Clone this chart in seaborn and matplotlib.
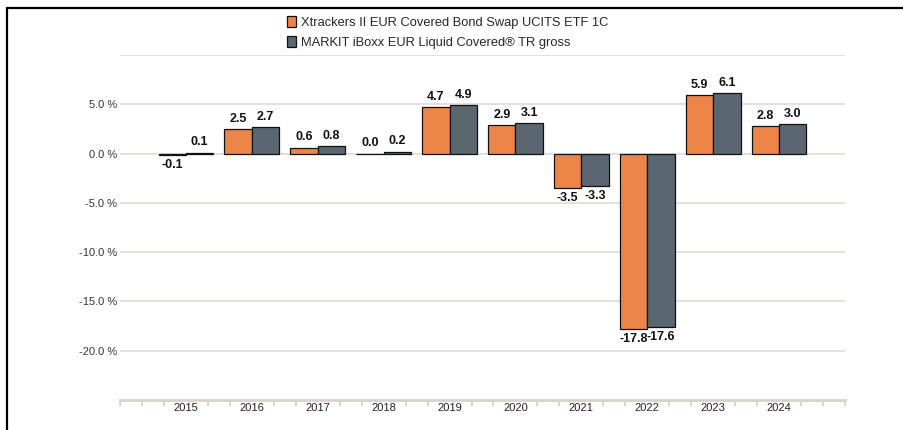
import matplotlib
matplotlib.use("Agg")
import matplotlib.pyplot as plt
import matplotlib.lines as mlines
import numpy as np
import pandas as pd
import seaborn as sns

years = ["2015", "2016", "2017", "2018", "2019", "2020", "2021", "2022", "2023", "2024"]
fund_name = "Xtrackers II EUR Covered Bond Swap UCITS ETF 1C"
index_name = "MARKIT iBoxx EUR Liquid Covered® TR gross"
fund_values = [-0.1, 2.5, 0.6, 0.0, 4.7, 2.9, -3.5, -17.8, 5.9, 2.8]
index_values = [0.1, 2.7, 0.8, 0.2, 4.9, 3.1, -3.3, -17.6, 6.1, 3.0]
y_ticks = [-20, -15, -10, -5, 0, 5]
y_tick_labels = ["-20.0 %", "-15.0 %", "-10.0 %", "-5.0 %", "0.0 %", "5.0 %"]

colors = ["#EE8548", "#5A6771"]

df = pd.DataFrame({
    "year": years * 2,
    "value": fund_values + index_values,
    "series": [fund_name] * len(years) + [index_name] * len(years),
})

sns.set_theme(style="white")
plt.rcParams["font.family"] = ["Liberation Sans", "DejaVu Sans"]

fig = plt.figure(figsize=(9.04, 4.30), dpi=100)
ax = fig.add_axes([120 / 904, 30 / 430, 725 / 904, 345 / 430])

sns.barplot(data=df, x="year", y="value", hue="series", palette=colors,
            edgecolor="#111111", linewidth=0.9, width=0.83, dodge=True,
            saturation=1, ax=ax, legend=True)

ax.set_xlim(-1, 10)
ax.set_ylim(-25, 10)

# grid
for g in [-20, -15, -10, -5, 0, 5, 10]:
    ax.axhline(g, color="#E2E1DC", lw=1.4, zorder=0)

ax.set_yticks(y_ticks)
ax.set_yticklabels(y_tick_labels, fontsize=8, color="#333333")
ax.tick_params(axis="y", length=0, pad=2)
ax.tick_params(axis="x", which="major", length=0, pad=2, labelsize=8, labelcolor="#222222")
ax.set_xlabel("")
ax.set_ylabel("")

for s in ["top", "right", "left"]:
    ax.spines[s].set_visible(False)
ax.spines["bottom"].set_color("#D8D3C6")
ax.spines["bottom"].set_linewidth(2)

# minor ticks on x (thirds, excluding category centres)
minor = [k / 3 for k in range(-3, 31)]
minor = [m for m in minor if not (0 <= m <= 9 and abs(m - round(m)) < 1e-9)]
ax.set_xticks(minor, minor=True)
ax.tick_params(axis="x", which="minor", bottom=True, length=4, width=1.3,
               color="#D8D3C6", direction="out")

# value labels
for container in ax.containers:
    vals = container.datavalues
    for patch, v in zip(container, vals):
        cx = patch.get_x() + patch.get_width() / 2
        if v < 0:
            ax.annotate(f"{v:.1f}", (cx, v), xytext=(0, -3), textcoords="offset points",
                        ha="center", va="top", fontsize=9, fontweight="bold", color="#111111")
        else:
            ax.annotate(f"{v:.1f}", (cx, v), xytext=(0, 3), textcoords="offset points",
                        ha="center", va="bottom", fontsize=9, fontweight="bold", color="#111111")

# legend
handles, labels = ax.get_legend_handles_labels()
ax.get_legend().remove()
fig.legend(handles, labels, loc="upper center", bbox_to_anchor=(0.495, 0.99),
           ncol=1, frameon=False, fontsize=9.3, handlelength=0.75, handleheight=0.9,
           handletextpad=0.35, labelspacing=0.6)

# frame lines
fig.add_artist(mlines.Line2D([7 / 904, 1.0], [1 - 8 / 430, 1 - 8 / 430],
                             color="black", lw=1.6, transform=fig.transFigure))
fig.add_artist(mlines.Line2D([7 / 904, 7 / 904], [0, 1 - 8 / 430],
                             color="black", lw=1.6, transform=fig.transFigure))

fig.savefig("out.png", dpi=100)
